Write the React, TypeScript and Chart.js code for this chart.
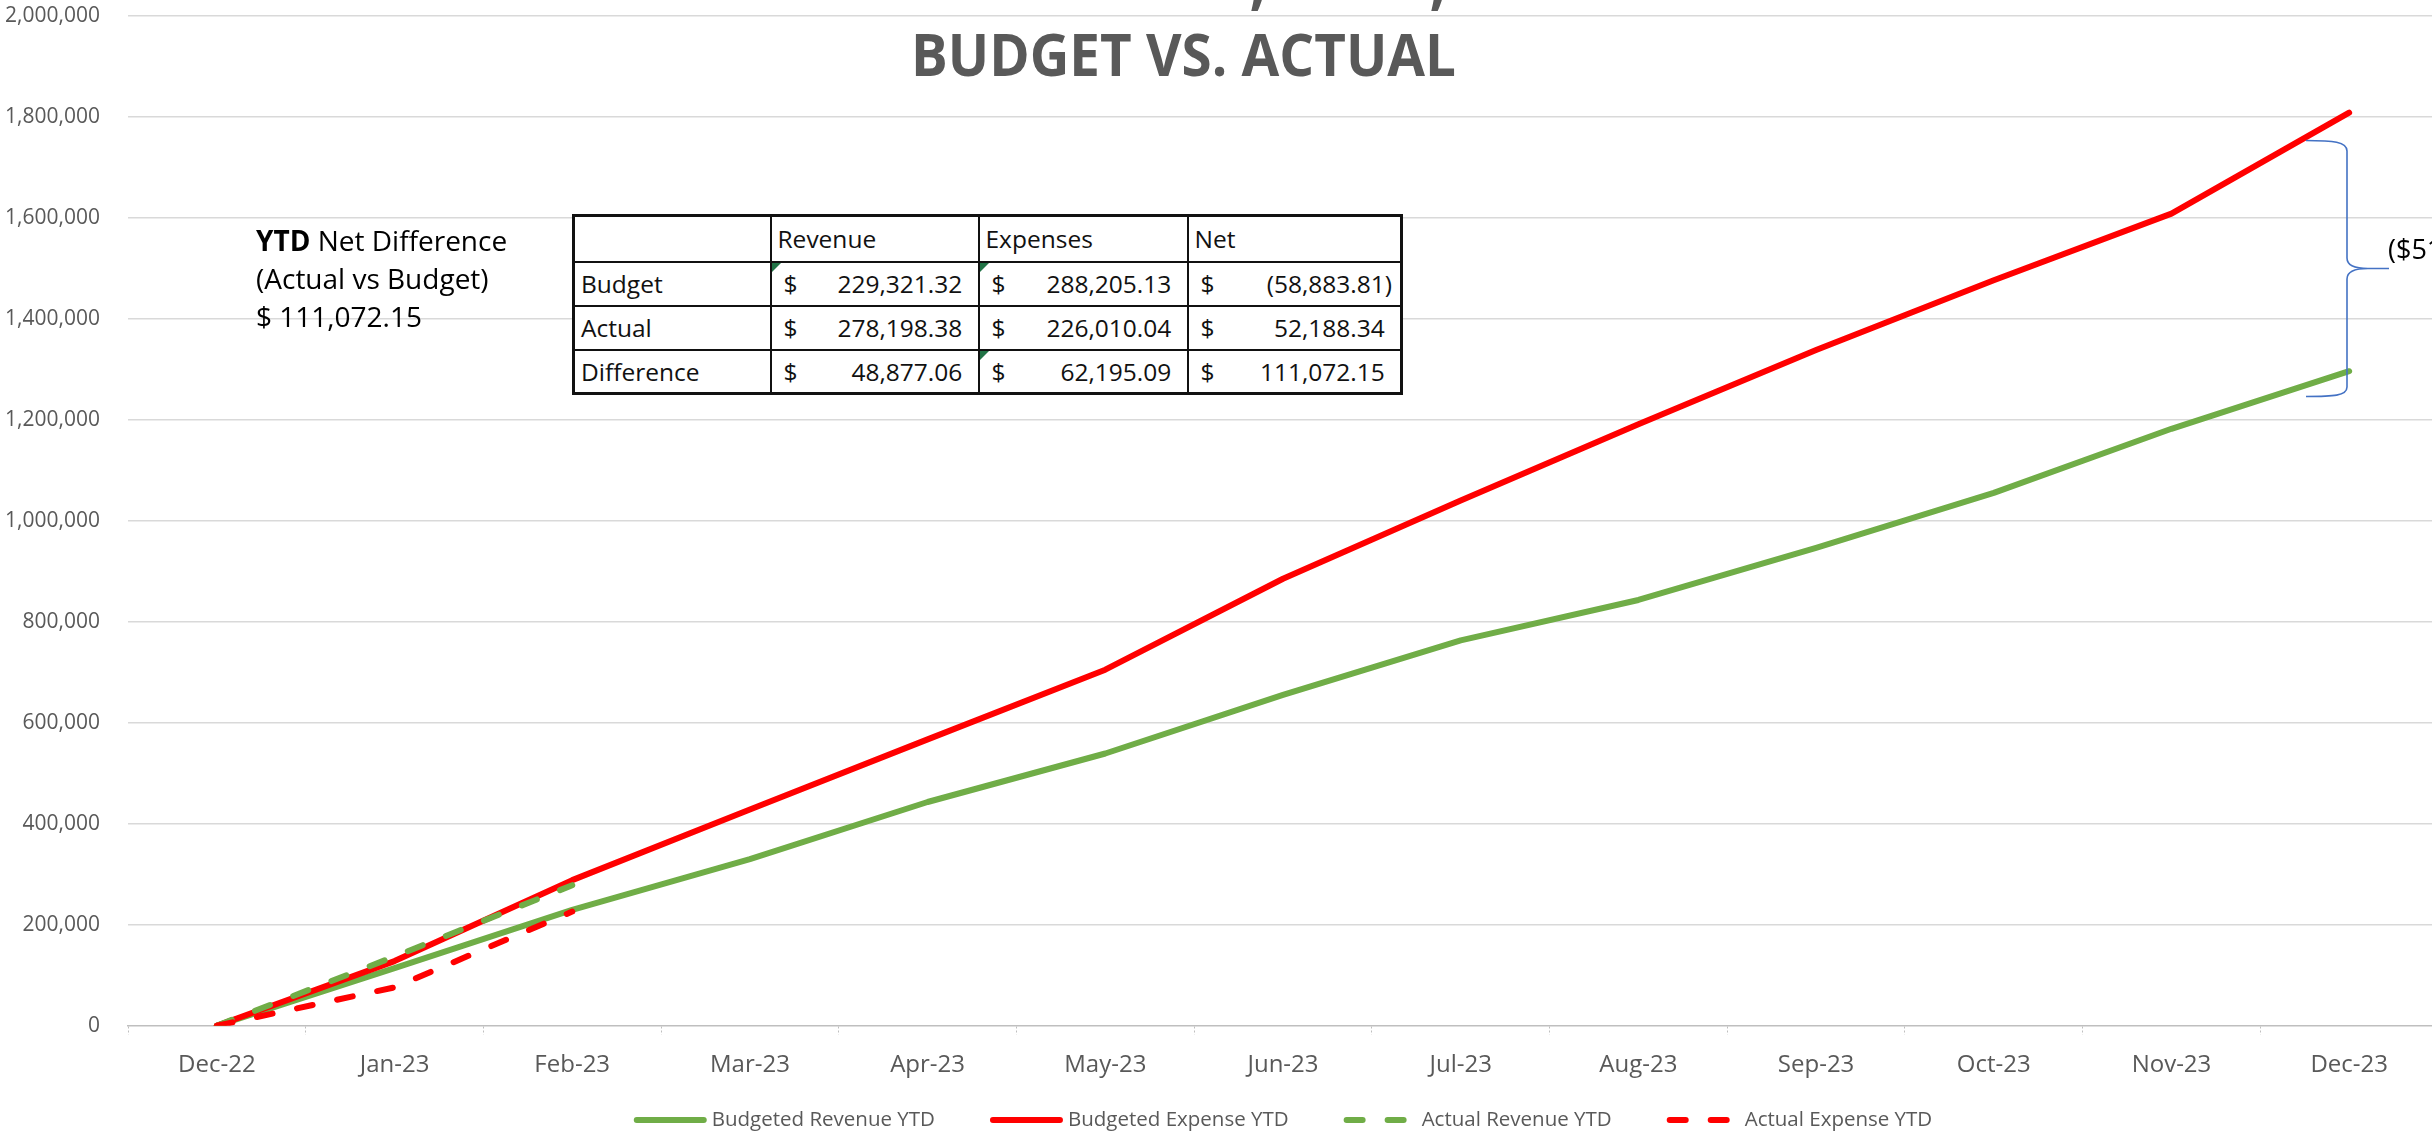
import React, { useEffect, useRef } from "react";
import { Chart, registerables } from "chart.js";

Chart.register(...registerables);

// ---------- data ----------
const categories = [
  "Dec-22", "Jan-23", "Feb-23", "Mar-23", "Apr-23", "May-23", "Jun-23",
  "Jul-23", "Aug-23", "Sep-23", "Oct-23", "Nov-23", "Dec-23",
];
const budgetedRevenueYTD = [
  0, 114000, 229321.32, 330000, 443000, 539000, 655000,
  763000, 843000, 946000, 1055000, 1182000, 1296000,
];
const budgetedExpenseYTD = [
  0, 128000, 288205.13, 428000, 567000, 705000, 885000,
  1040000, 1191000, 1338000, 1476000, 1608000, 1808000,
];
const actualRevenueYTD = [0, 137000, 278198.38, null, null, null, null, null, null, null, null, null, null];
const actualExpenseYTD = [0, 76000, 226010.04, null, null, null, null, null, null, null, null, null, null];

const seriesLabels = ["Budgeted Revenue YTD", "Budgeted Expense YTD", "Actual Revenue YTD", "Actual Expense YTD"];

const yMin = 0;
const yMax = 2000000;
const yStep = 200000;

const tableColumns = ["Revenue", "Expenses", "Net"];
const tableRowLabels = ["Budget", "Actual", "Difference"];
const budgetRow = [229321.32, 288205.13, -58883.81];
const actualRow = [278198.38, 226010.04, 52188.34];
const differenceRow = [48877.06, 62195.09, 111072.15];
const flaggedCells = [[true, true, false], [false, false, false], [false, true, false]];
const ytdNetDifference = 111072.15;

const titleText = "BUDGET VS. ACTUAL";

// ---------- helpers ----------
const GREEN = "#70AD47";
const RED = "#FF0000";
const FONT = '"Open Sans", "DejaVu Sans", sans-serif';

const fmt2 = (v: number) =>
  Math.abs(v).toLocaleString("en-US", { minimumFractionDigits: 2, maximumFractionDigits: 2 });
const fmt0 = (v: number) => Math.abs(v).toLocaleString("en-US", { maximumFractionDigits: 0 });

const overlayPlugin = {
  id: "overlayPlugin",
  afterDraw(chart: any) {
    const ctx: CanvasRenderingContext2D = chart.ctx;
    const area = chart.chartArea;
    ctx.save();

    // Title (and clipped descenders of the line above it)
    ctx.fillStyle = "#595959";
    ctx.font = `bold 59px ${FONT}`;
    const tw = ctx.measureText(titleText).width;
    const sx = 545 / tw;
    ctx.save();
    ctx.translate(1183.5, 76);
    ctx.scale(sx, 1);
    ctx.textAlign = "center";
    ctx.textBaseline = "alphabetic";
    ctx.fillText(titleText, 0, 0);
    ctx.restore();
    ctx.save();
    ctx.translate(0, 3);
    ctx.textAlign = "center";
    ctx.fillText(",", 1258, 0);
    ctx.fillText(",", 1438, 0);
    ctx.restore();

    // Curly brace annotation
    ctx.strokeStyle = "#4472C4";
    ctx.lineWidth = 1.6;
    ctx.beginPath();
    ctx.moveTo(2306, 140.5);
    ctx.bezierCurveTo(2333, 140.5, 2347, 141.5, 2347, 151);
    ctx.lineTo(2347, 258);
    ctx.bezierCurveTo(2347, 266, 2355, 268.5, 2368, 268.5);
    ctx.lineTo(2389, 268.5);
    ctx.moveTo(2368, 268.5);
    ctx.bezierCurveTo(2355, 268.5, 2347, 271, 2347, 279);
    ctx.lineTo(2347, 387);
    ctx.bezierCurveTo(2347, 396, 2333, 396.5, 2306, 396.5);
    ctx.stroke();

    const gap = budgetedRevenueYTD[budgetedRevenueYTD.length - 1] - budgetedExpenseYTD[budgetedExpenseYTD.length - 1];
    const gapText = gap < 0 ? `($${fmt0(gap)})` : `$${fmt0(gap)}`;
    ctx.fillStyle = "#000";
    ctx.font = `27px ${FONT}`;
    ctx.textAlign = "left";
    ctx.textBaseline = "middle";
    ctx.fillText(gapText, 2388, 251);

    // Legend
    ctx.font = `20.5px ${FONT}`;
    const items = chart.data.datasets.map((ds: any) => ({
      label: ds.label,
      color: ds.borderColor,
      dash: ds.borderDash || [],
      w: ctx.measureText(ds.label).width,
    }));
    const lineW = 73, textGap = 5, itemGap = 55;
    const total = items.reduce((s: number, it: any) => s + lineW + textGap + it.w, 0) + itemGap * (items.length - 1);
    let x = (area.left + area.right) / 2 - total / 2;
    const y = chart.height - 20;
    for (const it of items) {
      ctx.strokeStyle = it.color;
      ctx.lineWidth = 6;
      ctx.lineCap = "round";
      ctx.setLineDash(it.dash);
      ctx.beginPath();
      ctx.moveTo(x + 3, y);
      ctx.lineTo(x + lineW - 3, y);
      ctx.stroke();
      ctx.setLineDash([]);
      ctx.fillStyle = "#595959";
      ctx.textAlign = "left";
      ctx.textBaseline = "middle";
      ctx.fillText(it.label, x + lineW + textGap, y);
      x += lineW + textGap + it.w + itemGap;
    }
    ctx.restore();
  },
};

const triangle: React.CSSProperties = {
  position: "absolute",
  left: 0,
  top: 0,
  width: 0,
  height: 0,
  borderTop: "9px solid #217346",
  borderRight: "9px solid transparent",
};

export default function App() {
  const canvasRef = useRef<HTMLCanvasElement | null>(null);

  useEffect(() => {
    document.body.style.margin = "0";
    document.body.style.overflow = "hidden";
    const canvas = canvasRef.current;
    if (!canvas) return;
    const dash = [16, 25];
    const chart = new Chart(canvas, {
      type: "line",
      data: {
        labels: categories,
        datasets: [
          { label: seriesLabels[0], data: budgetedRevenueYTD, borderColor: GREEN, backgroundColor: GREEN, borderWidth: 6, order: 3 },
          { label: seriesLabels[1], data: budgetedExpenseYTD, borderColor: RED, backgroundColor: RED, borderWidth: 6, order: 2 },
          { label: seriesLabels[2], data: actualRevenueYTD, borderColor: GREEN, backgroundColor: GREEN, borderWidth: 6, borderDash: dash, order: 1 },
          { label: seriesLabels[3], data: actualExpenseYTD, borderColor: RED, backgroundColor: RED, borderWidth: 6, borderDash: dash, order: 0 },
        ] as any,
      },
      options: {
        responsive: false,
        animation: false,
        devicePixelRatio: 1,
        layout: { padding: { top: 15.7, right: 6, bottom: 0, left: 0 } },
        elements: {
          point: { radius: 0, hoverRadius: 0 },
          line: { tension: 0, borderCapStyle: "round", borderJoinStyle: "round" },
        },
        plugins: {
          legend: { display: false },
          tooltip: { enabled: false },
          title: { display: false },
        },
        scales: {
          x: {
            type: "category",
            offset: true,
            grid: {
              offset: true,
              drawOnChartArea: false,
              drawTicks: true,
              tickLength: 9,
              tickColor: "#bfbfbf",
              tickWidth: 1,
              tickBorderDash: [2, 2],
            },
            border: { display: true, color: "#bfbfbf", width: 1.5, dash: [2, 2] },
            ticks: {
              color: "#595959",
              font: { family: FONT, size: 24 },
              padding: 16.5,
              maxRotation: 0,
              autoSkip: false,
            },
            afterFit: (s: any) => {
              s.height = 1140 - 1025.7;
              s.paddingLeft = 0;
              s.paddingRight = 0;
            },
          },
          y: {
            min: yMin,
            max: yMax,
            grid: {
              drawTicks: false,
              lineWidth: 1.5,
              color: (c: any) => (c.tick && c.tick.value === 0 ? "rgba(0,0,0,0)" : "#d9d9d9"),
            },
            border: { display: false },
            ticks: {
              stepSize: yStep,
              color: "#595959",
              font: { family: FONT, size: 21 },
              padding: 28,
              callback: (v: any) => Number(v).toLocaleString("en-US"),
            },
            afterFit: (s: any) => {
              s.width = 128;
              s.paddingTop = 0;
              s.paddingBottom = 0;
            },
          },
        },
      } as any,
      plugins: [overlayPlugin],
    });
    return () => chart.destroy();
  }, []);

  const rows = [budgetRow, actualRow, differenceRow];
  const colW = [197, 208, 209, 214];
  const rowH = [46, 44, 44, 44];
  const cell: React.CSSProperties = {
    border: "2px solid #111",
    padding: "0 6px",
    verticalAlign: "middle",
    whiteSpace: "nowrap",
    position: "relative",
  };

  return (
    <div style={{ position: "relative", width: 2432, height: 1140, overflow: "hidden", background: "#fff" }}>
      <canvas ref={canvasRef} width={2444} height={1140} style={{ position: "absolute", left: 0, top: 0 }} />
      <div
        style={{
          position: "absolute",
          left: 256,
          top: 221,
          fontFamily: FONT,
          fontSize: 28,
          lineHeight: "38px",
          color: "#000",
          whiteSpace: "nowrap",
        }}
      >
        <div>
          <b>YTD</b> Net Difference
        </div>
        <div>(Actual vs Budget)</div>
        <div>$ {fmt2(ytdNetDifference)}</div>
      </div>
      <table
        style={{
          position: "absolute",
          left: 572,
          top: 214,
          borderCollapse: "collapse",
          border: "3px solid #111",
          background: "#fff",
          fontFamily: FONT,
          fontSize: 24.5,
          color: "#111",
          tableLayout: "fixed",
          width: 828,
        }}
      >
        <colgroup>
          {colW.map((w, i) => (
            <col key={i} style={{ width: w }} />
          ))}
        </colgroup>
        <tbody>
          <tr style={{ height: rowH[0] }}>
            <td style={cell}></td>
            {tableColumns.map((c) => (
              <td key={c} style={cell}>
                {c}
              </td>
            ))}
          </tr>
          {rows.map((r, ri) => (
            <tr key={ri} style={{ height: rowH[ri + 1] }}>
              <td style={cell}>{tableRowLabels[ri]}</td>
              {r.map((v, ci) => (
                <td key={ci} style={{ ...cell, padding: "0 8px 0 12px" }}>
                  {flaggedCells[ri][ci] && <span style={triangle} />}
                  <div style={{ display: "flex", justifyContent: "space-between" }}>
                    <span>$</span>
                    <span>
                      {v < 0 ? `(${fmt2(v)})` : fmt2(v)}
                      {v >= 0 && <span style={{ visibility: "hidden" }}>)</span>}
                    </span>
                  </div>
                </td>
              ))}
            </tr>
          ))}
        </tbody>
      </table>
    </div>
  );
}
